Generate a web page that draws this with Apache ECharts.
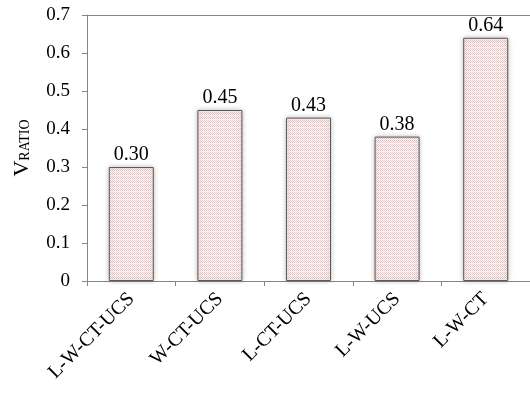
<!DOCTYPE html>
<html>
<head>
<meta charset="utf-8">
<script src="https://cdn.jsdelivr.net/npm/echarts@6/dist/echarts.min.js"></script>
<style>
  html, body { margin: 0; padding: 0; background: #fff; }
  #chart { width: 530px; height: 397px; }
</style>
</head>
<body>
<div id="chart"></div>
<script>
// Shear-ratio results per input combination
var categories = ['L-W-CT-UCS', 'W-CT-UCS', 'L-CT-UCS', 'L-W-UCS', 'L-W-CT'];
var vRatio = [0.30, 0.45, 0.43, 0.38, 0.64];
var yTicks = [0, 0.1, 0.2, 0.3, 0.4, 0.5, 0.6, 0.7];

// Small dotted fill tile for the bars
function makeDotTile() {
  var c = document.createElement('canvas');
  c.width = 4; c.height = 4;
  var g = c.getContext('2d');
  g.fillStyle = '#ffffff';
  g.fillRect(0, 0, 4, 4);
  g.fillStyle = '#f0bcbc';
  g.fillRect(0, 0, 1, 1);
  g.fillRect(2, 0, 1, 1);
  g.fillRect(1, 1, 1, 1);
  g.fillRect(3, 1, 1, 1);
  g.fillRect(0, 2, 1, 1);
  g.fillRect(2, 2, 1, 1);
  g.fillStyle = '#f8dede';
  g.fillRect(1, 3, 1, 1);
  g.fillRect(3, 3, 1, 1);
  return c;
}

var serif = 'Liberation Serif';
var chart = echarts.init(document.getElementById('chart'), null, { renderer: 'canvas' });

chart.setOption({
  animation: false,
  grid: { left: 87, top: 15, width: 446, height: 266, containLabel: false },
  xAxis: {
    type: 'category',
    data: categories,
    axisLine: { lineStyle: { color: '#868686', width: 1 } },
    axisTick: { show: true, alignWithLabel: false, length: 5, lineStyle: { color: '#868686' } },
    axisLabel: {
      rotate: 45,
      interval: 0,
      margin: 15,
      padding: [6, 0, 0, 0],
      color: '#000',
      fontFamily: serif,
      fontSize: 20
    }
  },
  yAxis: {
    type: 'value',
    min: yTicks[0],
    max: yTicks[yTicks.length - 1],
    interval: 0.1,
    name: '{v|V}{s|RATIO}',
    nameLocation: 'middle',
    nameRotate: 90,
    nameGap: 54,
    nameTextStyle: {
      rich: {
        v: { fontFamily: serif, fontSize: 22, color: '#000' },
        s: { fontFamily: serif, fontSize: 14, color: '#000', padding: [6, 0, 0, 0] }
      }
    },
    axisLine: { show: true, lineStyle: { color: '#868686', width: 1 } },
    axisTick: { show: true, length: 5, lineStyle: { color: '#868686' } },
    splitLine: { show: false },
    axisLabel: {
      margin: 17,
      color: '#000',
      fontFamily: serif,
      fontSize: 19,
      formatter: function (v) { return String(Math.round(v * 10) / 10); }
    }
  },
  series: [{
    type: 'bar',
    data: vRatio,
    barWidth: 45,
    itemStyle: {
      color: { image: makeDotTile(), repeat: 'repeat' },
      borderColor: '#5a5a5a',
      borderWidth: 1,
      shadowColor: 'rgba(0,0,0,0.25)',
      shadowBlur: 5
    },
    label: {
      show: true,
      position: 'top',
      distance: 2,
      color: '#000',
      fontFamily: serif,
      fontSize: 20,
      formatter: function (p) { return p.value.toFixed(2); }
    }
  }]
});

// Top border line of the plot area
chart.setOption({
  graphic: [{
    type: 'line',
    shape: { x1: 87, y1: 15.5, x2: 533, y2: 15.5 },
    style: { stroke: '#868686', lineWidth: 1 }
  }]
});
</script>
</body>
</html>
